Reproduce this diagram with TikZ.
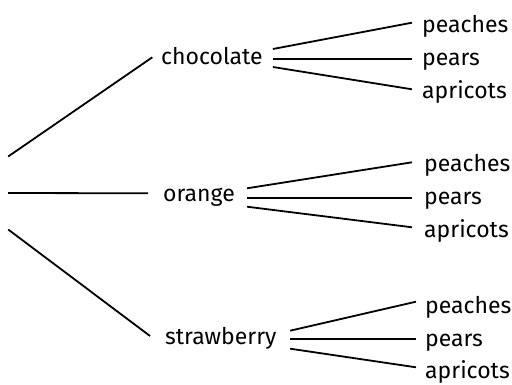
\documentclass[tikz,border=0pt]{standalone}
\usepackage{fontspec}
\setmainfont{Fira Sans}
\begin{document}
\begin{tikzpicture}[x=1pt,y=-1pt,
  lbl/.style={inner sep=0pt, anchor=base west, font=\fontsize{23}{27}\selectfont},
  conn/.style={line width=1.8pt}]
\useasboundingbox (0,0) rectangle (512,385);
% root
\node[inner sep=0pt, minimum width=0pt, minimum height=72.6pt] (root) at (8,193) {};
% level 1
\node[lbl] (choc) at (161,64.5) {chocolate};
\node[lbl] (orng) at (163,201.5) {orange};
\node[lbl] (strw) at (165,344) {strawberry};
% leaves
\node[lbl] (c1) at (422,33) {peaches};
\node[lbl] (c2) at (422,66) {pears};
\node[lbl] (c3) at (422,98.2) {apricots};
\node[lbl] (o1) at (424,172) {peaches};
\node[lbl] (o2) at (424,205) {pears};
\node[lbl] (o3) at (424,237.2) {apricots};
\node[lbl] (s1) at (425,313.6) {peaches};
\node[lbl] (s2) at (425,346.6) {pears};
\node[lbl] (s3) at (425,378.8) {apricots};
% root edges
\draw[conn] (root.north east) -- ([shift={(-8.7,-7.2)}]choc.base west);
\draw[conn] (root.east) -- ([shift={(-15,-8.2)}]orng.base west);
\draw[conn] (root.south east) -- ([shift={(-15,-8)}]strw.base west);
% chocolate
\draw[conn] ([shift={(10,-15.5)}]choc.base east) -- ([shift={(-10,-10.3)}]c1.base west);
\draw[conn] ([shift={(10,-5.8)}]choc.base east) -- ([shift={(-10,-7.3)}]c2.base west);
\draw[conn] ([shift={(10,2.5)}]choc.base east) -- ([shift={(-10,-8.9)}]c3.base west);
% orange
\draw[conn] ([shift={(12,-13.2)}]orng.base east) -- ([shift={(-12,-9.7)}]o1.base west);
\draw[conn] ([shift={(12,-3.8)}]orng.base east) -- ([shift={(-12,-7.3)}]o2.base west);
\draw[conn] ([shift={(12,5.2)}]orng.base east) -- ([shift={(-12,-9.9)}]o3.base west);
% strawberry
\draw[conn] ([shift={(13.5,-13.3)}]strw.base east) -- ([shift={(-9,-11.9)}]s1.base west);
\draw[conn] ([shift={(13.5,-4.7)}]strw.base east) -- ([shift={(-9,-7.3)}]s2.base west);
\draw[conn] ([shift={(13.5,4.7)}]strw.base east) -- ([shift={(-9,-11.5)}]s3.base west);
\end{tikzpicture}
\end{document}
